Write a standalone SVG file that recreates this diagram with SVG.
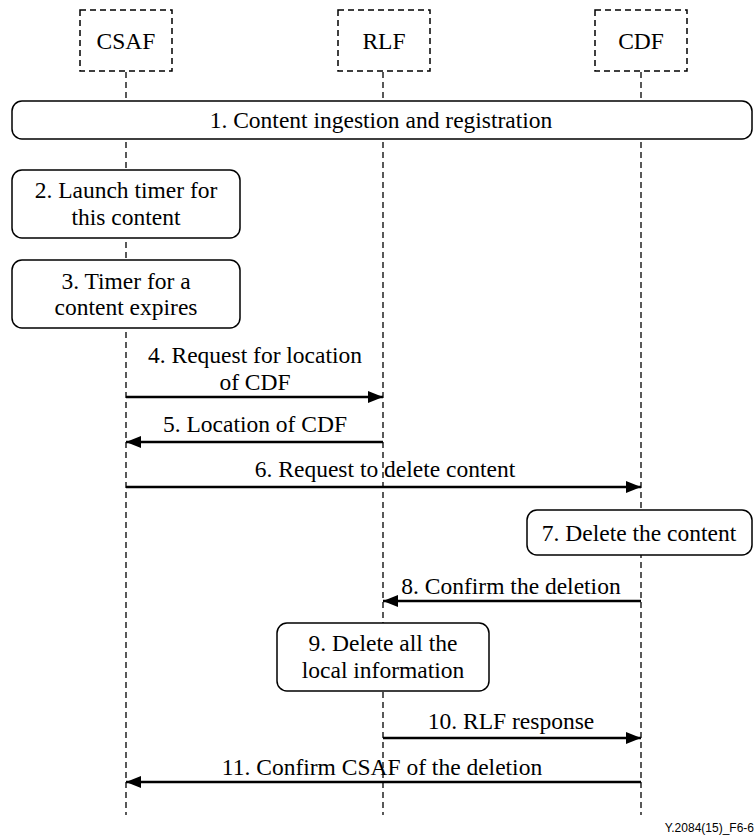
<svg xmlns="http://www.w3.org/2000/svg" width="756" height="837" viewBox="0 0 756 837" font-family="'Liberation Serif', 'Times New Roman', serif">
  <style>
    .lbl { font-family: "Liberation Serif", "Times New Roman", serif; font-size: 23.5px; fill: #000; text-anchor: middle; }
    .entity { fill: #fff; stroke: #000; stroke-width: 1.5; stroke-dasharray: 6 4; }
    .life { stroke: #000; stroke-width: 1.3; stroke-dasharray: 6 4; fill: none; }
    .step { fill: #fff; stroke: #000; stroke-width: 1.5; }
    .msg { stroke: #000; stroke-width: 2.6; fill: none; marker-end: url(#arrow); }
    .tag { font-family: "Liberation Sans", Arial, sans-serif; font-size: 12px; fill: #000; text-anchor: end; }
  </style>
  <defs>
    <marker id="arrow" viewBox="0 0 15 12" refX="15" refY="6" markerWidth="15" markerHeight="12" markerUnits="userSpaceOnUse" orient="auto">
      <path d="M0,0 L15,6 L0,12 Z" fill="#000"/>
    </marker>
  </defs>

  <!-- lifelines -->
  <g id="lifelines">
    <line class="life" x1="126" y1="72" x2="126" y2="815"/>
    <line class="life" x1="383" y1="72" x2="383" y2="815"/>
    <line class="life" x1="641" y1="72" x2="641" y2="815"/>
  </g>

  <!-- entities -->
  <g id="csaf">
    <rect class="entity" x="80" y="10" width="92" height="61"/>
    <text class="lbl" x="126" y="49">CSAF</text>
  </g>
  <g id="rlf">
    <rect class="entity" x="338" y="10" width="92" height="61"/>
    <text class="lbl" x="384" y="49">RLF</text>
  </g>
  <g id="cdf">
    <rect class="entity" x="595" y="10" width="92" height="61"/>
    <text class="lbl" x="641" y="49">CDF</text>
  </g>

  <!-- local steps -->
  <g id="step1">
    <rect class="step" x="12" y="101" width="740" height="38" rx="10"/>
    <text class="lbl" x="381" y="128">1. Content ingestion and registration</text>
  </g>
  <g id="step2">
    <rect class="step" x="12" y="170" width="228" height="68" rx="10"/>
    <text class="lbl" x="126" y="198">2. Launch timer for</text>
    <text class="lbl" x="126" y="225">this content</text>
  </g>
  <g id="step3">
    <rect class="step" x="12" y="260" width="228" height="68" rx="10"/>
    <text class="lbl" x="126" y="289">3. Timer for a</text>
    <text class="lbl" x="126" y="315">content expires</text>
  </g>
  <g id="step7">
    <rect class="step" x="527" y="510" width="225" height="45" rx="10"/>
    <text class="lbl" x="639" y="541">7. Delete the content</text>
  </g>
  <g id="step9">
    <rect class="step" x="277" y="623" width="212" height="68" rx="10"/>
    <text class="lbl" x="383" y="651">9. Delete all the</text>
    <text class="lbl" x="383" y="678">local information</text>
  </g>

  <!-- messages -->
  <g id="messages">
    <line class="msg" x1="126" y1="397" x2="383" y2="397"/>
    <text class="lbl" x="255" y="363">4. Request for location</text>
    <text class="lbl" x="255" y="390">of CDF</text>

    <line class="msg" x1="383" y1="442" x2="126" y2="442"/>
    <text class="lbl" x="255" y="432">5. Location of CDF</text>

    <line class="msg" x1="126" y1="487" x2="641" y2="487"/>
    <text class="lbl" x="385" y="477">6. Request to delete content</text>

    <line class="msg" x1="641" y1="601" x2="383" y2="601"/>
    <text class="lbl" x="511" y="594">8. Confirm the deletion</text>

    <line class="msg" x1="383" y1="738" x2="641" y2="738"/>
    <text class="lbl" x="511" y="729">10. RLF response</text>

    <line class="msg" x1="641" y1="782" x2="126" y2="782"/>
    <text class="lbl" x="382" y="775">11. Confirm CSAF of the deletion</text>
  </g>

  <text class="tag" x="754" y="832">Y.2084(15)_F6-6</text>
</svg>
